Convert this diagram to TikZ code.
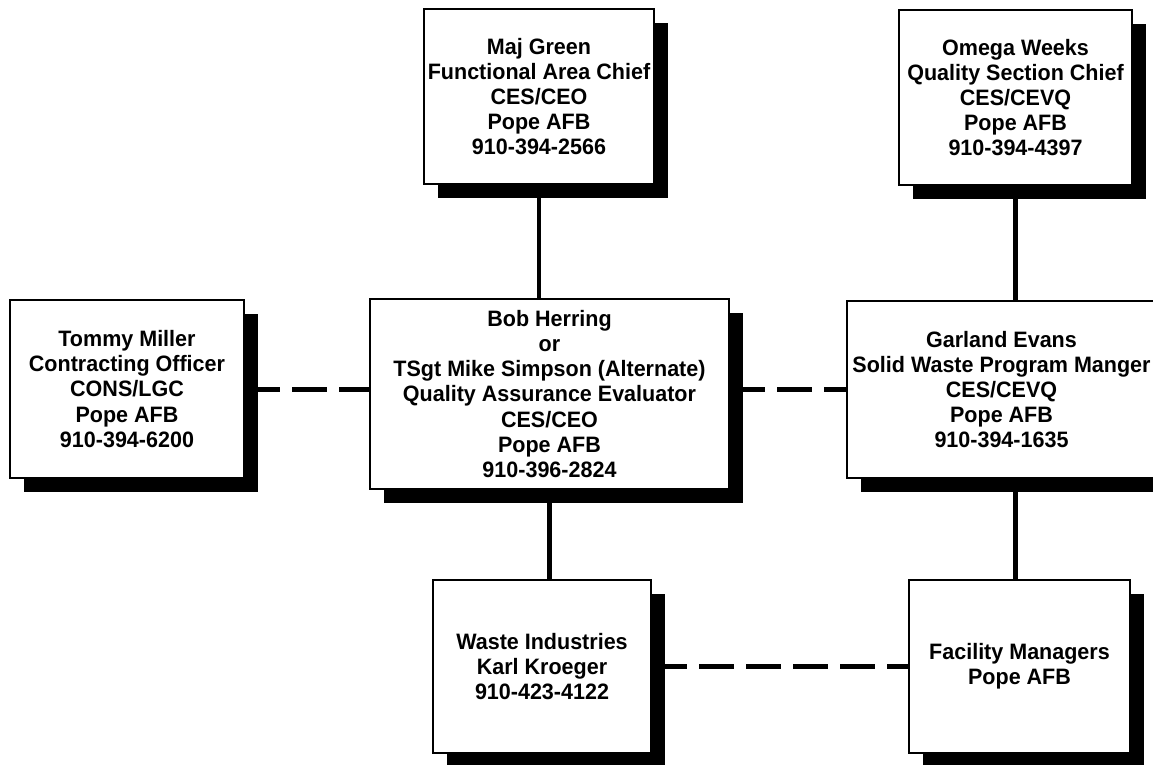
\documentclass[tikz,border=0pt]{standalone}
\usepackage{fontspec}
\setmainfont{Liberation Sans}[FakeStretch=0.965]
\usepackage{tikz}
\usetikzlibrary{shadows,positioning,calc}
\tikzstyle{office} = [rectangle, draw, fill=white, line width=2.5pt, align=center, inner sep=0pt, font=\bfseries\fontsize{22.3}{25.2}\selectfont, drop shadow={shadow xshift=14pt, shadow yshift=-14pt, fill=black, opacity=1}]
\tikzset{line/.style = {
    line width=4.5pt,
  },
  liaison/.style = {
    line width=5pt,
    dash pattern=on 35pt off 12pt,
  }
}

\begin{document}
\begin{tikzpicture}[x=1pt, y=-1pt]
          \useasboundingbox (0,0) rectangle (1153,764);
          % vertices
          \node[office, minimum width=230pt, minimum height=175pt] (green) at (539,96.5) {Maj Green\\Functional Area Chief\\CES/CEO\\Pope AFB\\910-394-2566};
          \node[office, minimum width=233pt, minimum height=175pt] (weeks) at (1015.5,97.5) {Omega Weeks\\Quality Section Chief\\CES/CEVQ\\Pope AFB\\910-394-4397};

          \node[office, minimum width=234pt, minimum height=178pt] (miller) at (127,389) {Tommy Miller\\Contracting Officer\\CONS/LGC\\Pope AFB\\910-394-6200};
          \node[office, minimum width=359pt, minimum height=190pt] (herring) at (549.5,394) {Bob Herring\\or\\TSgt Mike Simpson (Alternate)\\Quality Assurance Evaluator\\CES/CEO\\Pope AFB\\910-396-2824};
          \node[office, minimum width=309pt, minimum height=177pt] (evans) at (1001.5,389.5) {Garland Evans\\Solid Waste Program Manger\\CES/CEVQ\\Pope AFB\\910-394-1635};

          \node[office, minimum width=218pt, minimum height=173pt] (waste) at (542,666.5) {Waste Industries\\Karl Kroeger\\910-423-4122};
          \node[office, minimum width=221pt, minimum height=173pt] (facility) at (1019.5,666.5) {Facility Managers\\Pope AFB};

          % edges
          \draw[line] (green.south) -- (green.south |- herring.north);
          \draw[line] (weeks.south) -- (weeks.south |- evans.north);
          \draw[line] (herring.south) -- (herring.south |- waste.north);
          \draw[line] (weeks.south |- evans.south) -- (weeks.south |- facility.north);

          \draw[liaison] (miller.east) -- (miller.east -| herring.west);
          \draw[liaison] (evans.west -| herring.east) -- (evans.west);
          \draw[liaison] (waste.east) -- (facility.west);
        \end{tikzpicture}
\end{document}
